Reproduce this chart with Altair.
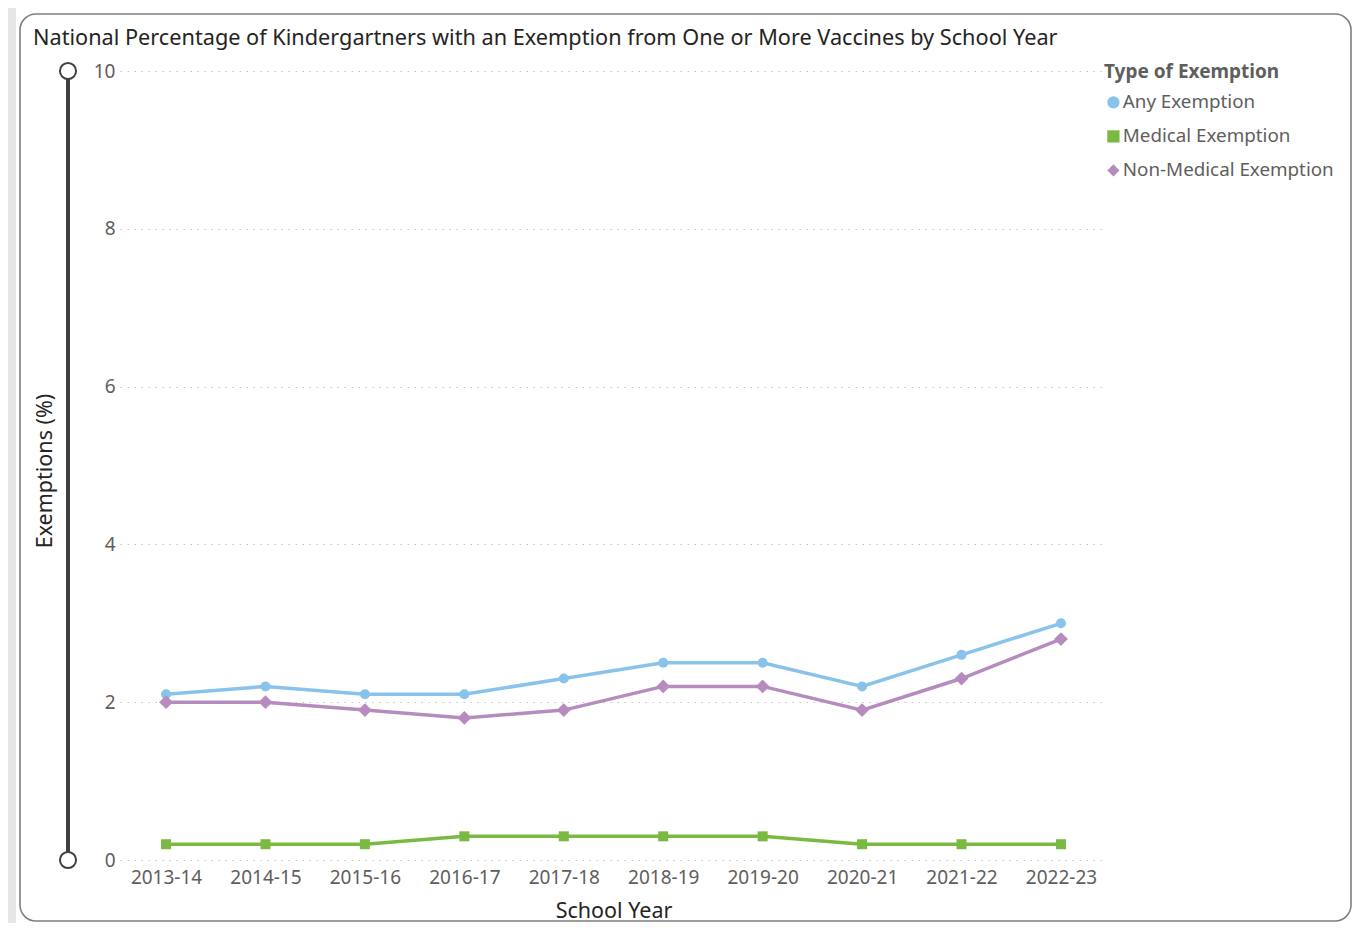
import altair as alt
import pandas as pd

years = ["2013-14", "2014-15", "2015-16", "2016-17", "2017-18",
         "2018-19", "2019-20", "2020-21", "2021-22", "2022-23"]
any_exemption = [2.1, 2.2, 2.1, 2.1, 2.3, 2.5, 2.5, 2.2, 2.6, 3.0]
medical_exemption = [0.2, 0.2, 0.2, 0.3, 0.3, 0.3, 0.3, 0.2, 0.2, 0.2]
non_medical_exemption = [2.0, 2.0, 1.9, 1.8, 1.9, 2.2, 2.2, 1.9, 2.3, 2.8]

series_names = ["Any Exemption", "Medical Exemption", "Non-Medical Exemption"]
series_colors = ["#89C3EB", "#7AB942", "#B68CBE"]
series_shapes = ["circle", "square", "diamond"]

title_text = "National Percentage of Kindergartners with an Exemption from One or More Vaccines by School Year"
y_ticks = [0, 2, 4, 6, 8, 10]

rows = []
for name, vals in zip(series_names, [any_exemption, medical_exemption, non_medical_exemption]):
    for yr, v in zip(years, vals):
        rows.append({"School Year": yr, "Exemptions": v, "Type of Exemption": name})
df = pd.DataFrame(rows)

FONT = "Noto Sans"
W, H = 987, 789

x_enc = alt.X("School Year:N", sort=years,
              scale=alt.Scale(type="point", padding=0.463),
              axis=alt.Axis(title="School Year", labelAngle=0, labelFontSize=19,
                            labelColor="#605E5C", labelPadding=8, ticks=False, tickSize=0,
                            domain=False, grid=False, titleFontSize=21.5, titleColor="#252423",
                            titleFontWeight="normal", titleX=W / 2, titleY=51,
                            titleBaseline="middle", titleAlign="center",
                            labelFont=FONT, titleFont=FONT))
y_scale = alt.Scale(domain=[0, 10], nice=False)
y_enc = alt.Y("Exemptions:Q", scale=y_scale,
              axis=alt.Axis(title="Exemptions (%)", values=y_ticks, format="d",
                            labelFontSize=19, labelColor="#605E5C", labelPadding=5,
                            ticks=False, tickSize=0,
                            domain=False, grid=True, gridColor="#C4C4C4", gridDash=[1.5, 5.5],
                            gridWidth=1, titleFontSize=21.5, titleColor="#252423",
                            titleFontWeight="normal", titleAngle=-90, titleX=-75,
                            titleY=H / 2 + 5, titleBaseline="middle", titleAlign="center",
                            labelFont=FONT, titleFont=FONT))
color_scale = alt.Scale(domain=series_names, range=series_colors)
shape_scale = alt.Scale(domain=series_names, range=series_shapes)

legend_cfg = alt.Legend(title="Type of Exemption", orient="none",
                        legendX=984, legendY=-8,
                        titleFontSize=19, titleFontWeight="bold",
                        titleColor="#605E5C", titleFont=FONT,
                        labelFontSize=18.8, labelColor="#605E5C", labelFont=FONT,
                        labelLimit=400, titleLimit=400,
                        symbolSize=150, rowPadding=14, titlePadding=11,
                        labelOffset=0, symbolStrokeWidth=0)

base = alt.Chart(df)

lines = base.mark_line(strokeWidth=3.5).encode(
    x=x_enc, y=y_enc,
    stroke=alt.Stroke("Type of Exemption:N", scale=color_scale, legend=legend_cfg),
)
point_enc = dict(
    x=x_enc, y=y_enc,
    color=alt.Color("Type of Exemption:N", scale=color_scale, legend=legend_cfg),
    shape=alt.Shape("Type of Exemption:N", scale=shape_scale, legend=legend_cfg),
)
points_small = base.mark_point(filled=True, opacity=1, size=100).encode(**point_enc).transform_filter(
    alt.datum["Type of Exemption"] != "Non-Medical Exemption")
points_diamond = base.mark_point(filled=True, opacity=1, size=190).encode(**point_enc).transform_filter(
    alt.datum["Type of Exemption"] == "Non-Medical Exemption")

one = pd.DataFrame({"k": [0]})

# left gray strip
strip = alt.Chart(one).mark_rect(color="#E6E6E6").encode(
    x=alt.value(-112), x2=alt.value(-104), y=alt.value(-63), y2=alt.value(H + 63))

# card outline
card = alt.Chart(one).mark_rect(fill="white", fillOpacity=0, stroke="#7F7F7F",
                                strokeWidth=1.6, cornerRadius=16).encode(
    x=alt.value(-100), x2=alt.value(1231), y=alt.value(-57), y2=alt.value(H + 61))

title = alt.Chart(pd.DataFrame({"t": [title_text]})).mark_text(
    align="left", baseline="middle", fontSize=21.7, font=FONT, color="#252423").encode(
    text="t:N", x=alt.value(-87), y=alt.value(-33))

slider_line = alt.Chart(one).mark_rule(color="#404040", strokeWidth=4).encode(
    x=alt.value(-52), y=alt.value(0), y2=alt.value(H))
slider_ends = alt.Chart(pd.DataFrame({"Exemptions": [0, 10]})).mark_point(
    shape="circle", filled=True, fill="white", stroke="#404040", strokeWidth=2,
    size=260, opacity=1).encode(
    x=alt.value(-52), y=alt.Y("Exemptions:Q", scale=y_scale))

chart = alt.layer(strip, card, title, slider_line, slider_ends, lines,
                  points_small, points_diamond).properties(
    width=W, height=H,
    autosize=alt.AutoSizeParams(type="none"),
    padding={"left": 112, "top": 63, "right": 246, "bottom": 63},
).configure(background="white").configure_view(stroke=None)

chart.save("out.html", embed_options={"renderer": "svg", "actions": False})
